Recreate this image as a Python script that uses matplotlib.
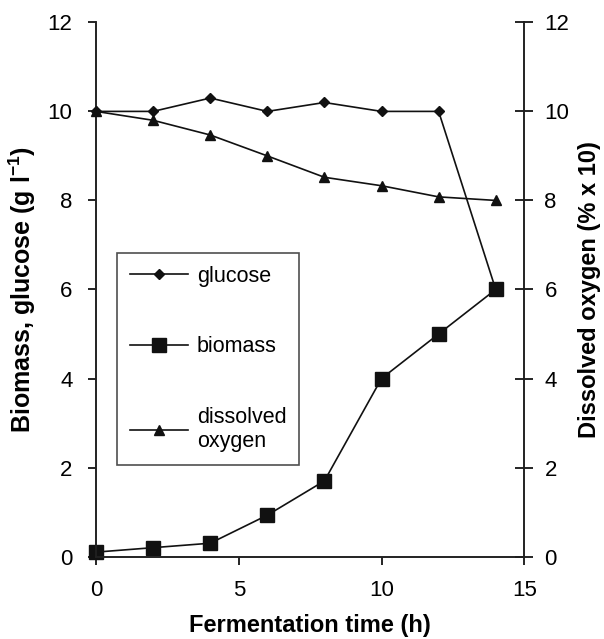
import matplotlib
matplotlib.use("Agg")
import matplotlib.pyplot as plt

plt.rcParams['font.family'] = ['Liberation Sans', 'DejaVu Sans']
plt.rcParams['mathtext.fontset'] = 'custom'
plt.rcParams['mathtext.rm'] = 'Liberation Sans:bold'
plt.rcParams['mathtext.default'] = 'rm'

# data
time_h = [0, 2, 4, 6, 8, 10, 12, 14]
glucose = [10.0, 10.0, 10.3, 10.0, 10.2, 10.0, 10.0, 6.0]
biomass = [0.1, 0.2, 0.3, 0.93, 1.7, 4.0, 5.0, 6.0]
dissolved_oxygen = [10.0, 9.8, 9.47, 9.0, 8.52, 8.33, 8.08, 8.0]
x_ticks = [0, 5, 10, 15]
y_ticks = [0, 2, 4, 6, 8, 10, 12]

fig = plt.figure(figsize=(6.04, 6.39), dpi=100)
ax = fig.add_axes([0.159, 0.129, 0.709, 0.836])
ax2 = ax.twinx()

lw = 1.2
h1, = ax.plot(time_h, glucose, color='#111111', lw=lw, marker='D', ms=5.5,
              clip_on=False, zorder=3, label='glucose')
h2, = ax.plot(time_h, biomass, color='#111111', lw=lw, marker='s', ms=10.5,
              clip_on=False, zorder=4, label='biomass')
h3, = ax2.plot(time_h, dissolved_oxygen, color='#111111', lw=lw, marker='^', ms=7.5,
               clip_on=False, zorder=3, label='dissolved\noxygen')

for a in (ax, ax2):
    a.set_xlim(0, 15)
    a.set_ylim(0, 12)
    a.set_yticks(y_ticks)
    a.spines['top'].set_visible(False)
    for s in a.spines.values():
        s.set_linewidth(1.2)
        s.set_color('#222222')

ax.set_xticks(x_ticks)
ax.tick_params(axis='x', direction='out', length=6, width=1.2, pad=11, labelsize=16)
ax.tick_params(axis='y', direction='out', length=6, width=1.2, pad=11, labelsize=16)
ax2.tick_params(axis='y', direction='inout', length=13, width=1.2, pad=8, labelsize=16)

ax.set_xlabel('Fermentation time (h)', fontsize=17, fontweight='bold', labelpad=9)
ax.set_ylabel(r'Biomass, glucose (g l$^{-1}$)', fontsize=18, fontweight='bold', labelpad=7)
ax2.set_ylabel('Dissolved oxygen (% x 10)', fontsize=17, fontweight='bold', labelpad=6)

leg = ax2.legend(handles=[h1, h2, h3], loc='upper left',
                 bbox_to_anchor=(117 / 604, 1 - 253 / 639), bbox_transform=fig.transFigure,
                 fontsize=15.5, handlelength=2.7, handletextpad=0.4, labelspacing=2.3,
                 borderpad=0.6, fancybox=False, frameon=True, borderaxespad=0)
leg.get_frame().set_edgecolor('#222222')
leg.get_frame().set_linewidth(1.2)

fig.savefig('out.png', dpi=100)
